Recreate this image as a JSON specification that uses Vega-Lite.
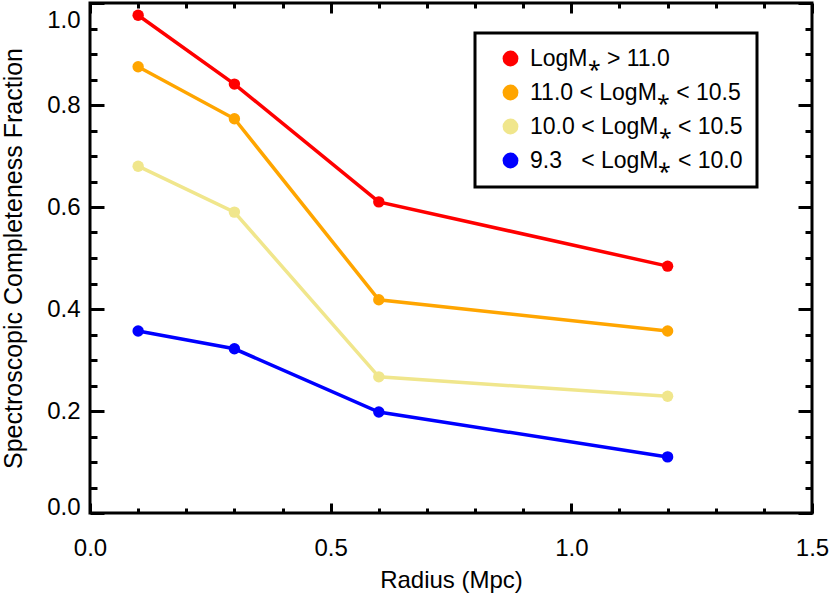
{
  "$schema": "https://vega.github.io/schema/vega-lite/v6.json",
  "autosize": {"type": "none"},
  "padding": {"left": 90, "top": 3, "right": 18, "bottom": 86},
  "width": 722,
  "height": 510,
  "background": "white",
  "config": {
    "view": {"stroke": "black", "strokeWidth": 3},
    "font": "Liberation Sans",
    "legend": {"strokeWidth": 3},
    "axis": {"grid": false, "domain": false, "tickColor": "black", "tickWidth": 3, "labelColor": "black", "titleColor": "black", "labelFont": "Liberation Sans", "titleFont": "Liberation Sans", "labelFontSize": 24, "titleFontSize": 24, "titleFontWeight": "normal"}
  },
  "data": {
    "values": [
      {"r": 0.1, "f": 0.976, "g": "LogM⁎ > 11.0"},
      {"r": 0.3, "f": 0.841, "g": "LogM⁎ > 11.0"},
      {"r": 0.6, "f": 0.610, "g": "LogM⁎ > 11.0"},
      {"r": 1.2, "f": 0.484, "g": "LogM⁎ > 11.0"},
      {"r": 0.1, "f": 0.875, "g": "11.0 < LogM⁎ < 10.5"},
      {"r": 0.3, "f": 0.773, "g": "11.0 < LogM⁎ < 10.5"},
      {"r": 0.6, "f": 0.418, "g": "11.0 < LogM⁎ < 10.5"},
      {"r": 1.2, "f": 0.357, "g": "11.0 < LogM⁎ < 10.5"},
      {"r": 0.1, "f": 0.680, "g": "10.0 < LogM⁎ < 10.5"},
      {"r": 0.3, "f": 0.590, "g": "10.0 < LogM⁎ < 10.5"},
      {"r": 0.6, "f": 0.267, "g": "10.0 < LogM⁎ < 10.5"},
      {"r": 1.2, "f": 0.229, "g": "10.0 < LogM⁎ < 10.5"},
      {"r": 0.1, "f": 0.357, "g": "9.3\u00a0\u00a0\u00a0< LogM⁎ < 10.0"},
      {"r": 0.3, "f": 0.322, "g": "9.3\u00a0\u00a0\u00a0< LogM⁎ < 10.0"},
      {"r": 0.6, "f": 0.198, "g": "9.3\u00a0\u00a0\u00a0< LogM⁎ < 10.0"},
      {"r": 1.2, "f": 0.110, "g": "9.3\u00a0\u00a0\u00a0< LogM⁎ < 10.0"}
    ]
  },
  "resolve": {"axis": {"x": "independent", "y": "independent"}},
  "layer": [
    {
      "mark": {"type": "line", "strokeWidth": 3.5},
      "encoding": {
        "x": {"field": "r", "type": "quantitative", "scale": {"domain": [0, 1.5], "nice": false, "zero": false},
          "axis": {"orient": "bottom", "values": [0, 0.5, 1, 1.5], "format": ".1f", "tickSize": -10, "labelPadding": 33, "labelFlush": false, "title": "Radius (Mpc)", "titlePadding": 8}},
        "y": {"field": "f", "type": "quantitative", "scale": {"domain": [0, 1.0], "nice": false, "zero": false},
          "axis": {"orient": "left", "values": [0, 0.2, 0.4, 0.6, 0.8, 1.0], "format": ".1f", "tickSize": -14, "labelPadding": 24, "labelFlush": true, "labelFlushOffset": 6,
            "labelOffset": {"condition": {"test": "datum.value >= 0.99", "value": 11}, "value": 0},
            "title": "Spectroscopic Completeness Fraction", "titleFontSize": 25, "titlePadding": 20}},
        "color": {"field": "g", "type": "nominal",
          "scale": {"domain": ["LogM⁎ > 11.0", "11.0 < LogM⁎ < 10.5", "10.0 < LogM⁎ < 10.5", "9.3\u00a0\u00a0\u00a0< LogM⁎ < 10.0"], "range": ["#ff0000", "#ffa500", "#f0e68c", "#0000ff"]},
          "legend": {"orient": "none", "legendX": 385, "legendY": 30, "title": null, "strokeColor": "black", "fillColor": "white", "padding": 14, "symbolOffset": 10, "symbolType": "circle", "symbolSize": 250, "symbolStrokeWidth": 0, "labelFont": "Liberation Sans", "labelFontSize": 23, "labelColor": "black", "labelOffset": 8, "rowPadding": 10, "labelLimit": 400}},
        "detail": {"field": "g"}
      }
    },
    {
      "mark": {"type": "point", "shape": "circle", "filled": true, "opacity": 1, "size": 130},
      "encoding": {
        "x": {"field": "r", "type": "quantitative",
          "axis": {"orient": "top", "values": [0, 0.5, 1, 1.5], "labels": false, "tickSize": -10, "title": null}},
        "y": {"field": "f", "type": "quantitative",
          "axis": {"orient": "right", "values": [0, 0.2, 0.4, 0.6, 0.8, 1.0], "labels": false, "tickSize": -14, "title": null}},
        "color": {"field": "g", "type": "nominal",
          "legend": {"orient": "none", "legendX": 385, "legendY": 30, "title": null, "strokeColor": "black", "fillColor": "white", "padding": 14, "symbolOffset": 10, "symbolType": "circle", "symbolSize": 250, "symbolStrokeWidth": 0, "labelFont": "Liberation Sans", "labelFontSize": 23, "labelColor": "black", "labelOffset": 8, "rowPadding": 10, "labelLimit": 400}}
      }
    },
    {
      "mark": {"type": "point", "opacity": 0},
      "encoding": {
        "x": {"field": "r", "type": "quantitative",
          "axis": {"orient": "bottom", "values": [0.1, 0.2, 0.3, 0.4, 0.6, 0.7, 0.8, 0.9, 1.1, 1.2, 1.3, 1.4], "labels": false, "tickSize": -5, "title": null}},
        "y": {"field": "f", "type": "quantitative",
          "axis": {"orient": "left", "values": [0.05, 0.1, 0.15, 0.25, 0.3, 0.35, 0.45, 0.5, 0.55, 0.65, 0.7, 0.75, 0.85, 0.9, 0.95], "labels": false, "tickSize": -7, "title": null}}
      }
    },
    {
      "mark": {"type": "point", "opacity": 0},
      "encoding": {
        "x": {"field": "r", "type": "quantitative",
          "axis": {"orient": "top", "values": [0.1, 0.2, 0.3, 0.4, 0.6, 0.7, 0.8, 0.9, 1.1, 1.2, 1.3, 1.4], "labels": false, "tickSize": -5, "title": null}},
        "y": {"field": "f", "type": "quantitative",
          "axis": {"orient": "right", "values": [0.05, 0.1, 0.15, 0.25, 0.3, 0.35, 0.45, 0.5, 0.55, 0.65, 0.7, 0.75, 0.85, 0.9, 0.95], "labels": false, "tickSize": -7, "title": null}}
      }
    }
  ]
}
